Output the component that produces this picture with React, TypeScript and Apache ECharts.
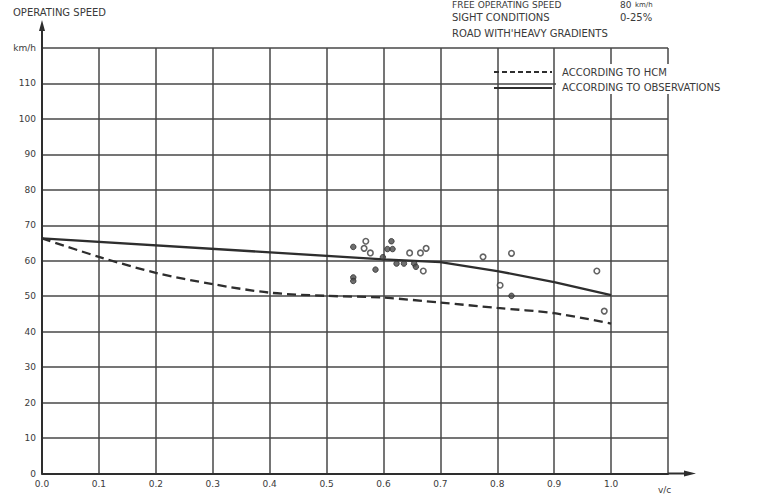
import { useEffect, useRef } from "react";
import * as echarts from "echarts";

const xTickLabels = ["0.0", "0.1", "0.2", "0.3", "0.4", "0.5", "0.6", "0.7", "0.8", "0.9", "1.0", ""];
const yTickLabels = ["0", "10", "20", "30", "40", "50", "60", "70", "80", "90", "100", "110", "km/h"];

const hcmCurve: [number, number][] = [
  [0, 66.3], [0.1, 61.1], [0.2, 56.6], [0.3, 53.4], [0.4, 51.0], [0.5, 50.1],
  [0.6, 49.6], [0.7, 48.2], [0.8, 46.7], [0.9, 45.2], [1.0, 42.3],
];
const observedCurve: [number, number][] = [
  [0, 66.3], [0.6, 60.4], [0.7, 59.6], [0.8, 57.1], [0.9, 54.0], [1.0, 50.3],
];
const openPoints: [number, number][] = [
  [0.569, 65.5], [0.566, 63.5], [0.577, 62.2], [0.646, 62.2], [0.665, 62.2],
  [0.675, 63.5], [0.670, 57.1], [0.775, 61.1], [0.825, 62.1], [0.975, 57.1],
  [0.805, 53.1], [0.988, 45.8],
];
const filledPoints: [number, number][] = [
  [0.547, 63.9], [0.614, 65.5], [0.607, 63.3], [0.616, 63.3], [0.586, 57.5],
  [0.547, 55.3], [0.547, 54.3], [0.623, 59.2], [0.636, 59.2], [0.654, 59.2],
  [0.657, 58.3], [0.599, 61.0], [0.825, 50.1],
];

const legendLabels = ["ACCORDING TO HCM", "ACCORDING TO OBSERVATIONS"];
const headerLines = ["FREE OPERATING SPEED", "SIGHT CONDITIONS", "ROAD WITH'HEAVY GRADIENTS"];
const headerValues = ["80", "0-25%"];
const yAxisTitle = "OPERATING SPEED";
const xAxisTitle = "v/c";

const FONT = "DejaVu Sans";
const TXT = "#3a3a3a";
const INK = "#2e2e2e";

export default function App() {
  const ref = useRef<HTMLDivElement>(null);
  useEffect(() => {
    if (!ref.current) return;
    const chart = echarts.init(ref.current, undefined, { renderer: "svg" });
    const gridLine = { lineStyle: { color: "#474747", width: 1.5 } };
    chart.setOption({
      animation: false,
      backgroundColor: "#fff",
      grid: { left: 42, right: 93, top: 48, bottom: 22.5 },
      xAxis: {
        type: "value",
        min: 0,
        max: 1.1,
        interval: 0.1,
        axisLine: { show: true, onZero: false, lineStyle: { color: INK, width: 2 } },
        axisTick: { show: false },
        splitLine: { show: true, ...gridLine },
        axisLabel: {
          margin: 6,
          fontSize: 9,
          fontFamily: FONT,
          color: TXT,
          showMaxLabel: true,
          formatter: (v: number) => xTickLabels[Math.round(v * 10)] ?? "",
        },
      },
      yAxis: {
        type: "value",
        min: 0,
        max: 120,
        interval: 10,
        axisLine: { show: true, onZero: false, lineStyle: { color: INK, width: 2 } },
        axisTick: { show: false },
        splitLine: { show: true, ...gridLine },
        axisLabel: {
          margin: 6,
          fontSize: 9,
          fontFamily: FONT,
          color: TXT,
          formatter: (v: number) => yTickLabels[Math.round(v / 10)] ?? "",
        },
      },
      series: [
        {
          type: "line",
          data: hcmCurve,
          smooth: 0.3,
          symbol: "none",
          lineStyle: { color: INK, width: 2.3, type: [9, 5] },
          z: 3,
        },
        {
          type: "line",
          data: observedCurve,
          symbol: "none",
          lineStyle: { color: INK, width: 2.3 },
          z: 3,
        },
        {
          type: "scatter",
          data: openPoints,
          symbol: "circle",
          symbolSize: 5.5,
          itemStyle: { color: "#fff", borderColor: "#3c3c3c", borderWidth: 1.6 },
          z: 4,
        },
        {
          type: "scatter",
          data: filledPoints,
          symbol: "circle",
          symbolSize: 5.5,
          itemStyle: { color: "#4a4a4a", borderColor: "#2e2e2e", borderWidth: 1 },
          z: 4,
        },
      ],
      graphic: [
        // y axis arrow
        { type: "line", shape: { x1: 42, y1: 48, x2: 42, y2: 26 }, style: { stroke: INK, lineWidth: 2 }, z: 10 },
        { type: "polygon", shape: { points: [[39, 31], [42, 20], [45, 31]] }, style: { fill: INK }, z: 10 },
        // x axis arrow
        { type: "line", shape: { x1: 668, y1: 473.5, x2: 690, y2: 473.5 }, style: { stroke: INK, lineWidth: 2 }, z: 10 },
        { type: "polygon", shape: { points: [[684, 470.5], [696, 473.5], [684, 476.5]] }, style: { fill: INK }, z: 10 },
        // titles
        { type: "text", x: 13, y: 7, style: { text: yAxisTitle, font: `10px "${FONT}"`, fill: TXT }, z: 10 },
        { type: "text", x: 658, y: 485, style: { text: xAxisTitle, font: `9px "${FONT}"`, fill: TXT }, z: 10 },
        // header
        { type: "text", x: 452, y: 0, style: { text: headerLines[0], font: `9px "${FONT}"`, fill: TXT }, z: 10 },
        { type: "text", x: 620, y: 0, style: { text: headerValues[0], font: `9px "${FONT}"`, fill: TXT }, z: 10 },
        { type: "text", x: 635, y: 1, style: { text: "km/h", font: `7px "${FONT}"`, fill: TXT }, z: 10 },
        { type: "text", x: 452, y: 12, style: { text: headerLines[1], font: `10px "${FONT}"`, fill: TXT }, z: 10 },
        { type: "text", x: 620, y: 12, style: { text: headerValues[1], font: `10px "${FONT}"`, fill: TXT }, z: 10 },
        { type: "text", x: 452, y: 28, style: { text: headerLines[2], font: `10px "${FONT}"`, fill: TXT }, z: 10 },
        // legend
        { type: "rect", shape: { x: 556, y: 64, width: 205, height: 30 }, style: { fill: "#fff" }, z: 9 },
        { type: "line", shape: { x1: 494, y1: 72, x2: 552, y2: 72 }, style: { stroke: INK, lineWidth: 2.2, lineDash: [5, 3] }, z: 10 },
        { type: "line", shape: { x1: 494, y1: 88, x2: 552, y2: 88 }, style: { stroke: INK, lineWidth: 2.2 }, z: 10 },
        { type: "text", x: 562, y: 67, style: { text: legendLabels[0], font: `10px "${FONT}"`, fill: TXT }, z: 10 },
        { type: "text", x: 562, y: 82, style: { text: legendLabels[1], font: `10px "${FONT}"`, fill: TXT }, z: 10 },
      ],
    });
    return () => chart.dispose();
  }, []);
  return (
    <div
      ref={ref}
      style={{ position: "fixed", left: 0, top: 0, width: 761, height: 496, background: "#fff" }}
    />
  );
}
